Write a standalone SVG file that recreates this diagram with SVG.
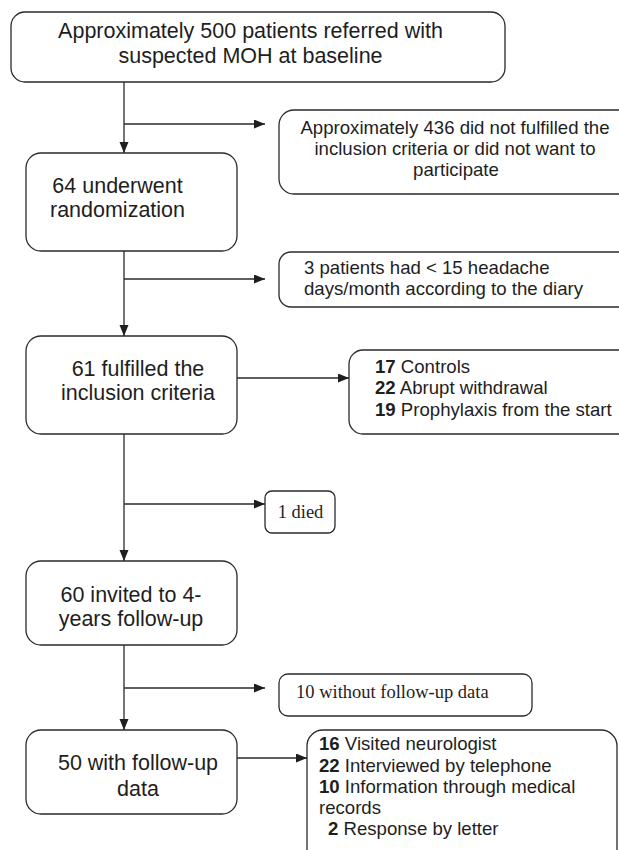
<svg xmlns="http://www.w3.org/2000/svg" width="619" height="850" viewBox="0 0 619 850">
<style>
.box{fill:#fff;stroke:#2a2a2a;stroke-width:1.3}
.main{font-family:"Liberation Sans",Arial,sans-serif;font-size:21.5px;fill:#1e1e1e}
.side{font-family:"Liberation Sans",Arial,sans-serif;font-size:18.6px;fill:#1e1e1e}
.serif{font-family:"Liberation Serif","Times New Roman",serif;font-size:18.5px;fill:#1e1e1e}
.c{text-anchor:middle}
.conn{fill:none;stroke:#2a2a2a;stroke-width:1.3}
b,.b{font-weight:bold}
</style>
<defs>
<marker id="ah" markerUnits="userSpaceOnUse" markerWidth="12" markerHeight="10" refX="11" refY="4.5" orient="auto">
<path d="M0,0 L11,4.5 L0,9 z" fill="#1e1e1e"/>
</marker>
</defs>
<rect width="619" height="850" fill="#fff"/>
<g id="connectors">
<line class="conn" x1="124" y1="82" x2="124" y2="153" marker-end="url(#ah)"/>
<line class="conn" x1="124" y1="124" x2="265" y2="124" marker-end="url(#ah)"/>
<line class="conn" x1="124" y1="251" x2="124" y2="336" marker-end="url(#ah)"/>
<line class="conn" x1="124" y1="279" x2="265" y2="279" marker-end="url(#ah)"/>
<line class="conn" x1="237" y1="378" x2="349" y2="378" marker-end="url(#ah)"/>
<line class="conn" x1="124" y1="434" x2="124" y2="561" marker-end="url(#ah)"/>
<line class="conn" x1="124" y1="504" x2="265" y2="504" marker-end="url(#ah)"/>
<line class="conn" x1="124" y1="645" x2="124" y2="730" marker-end="url(#ah)"/>
<line class="conn" x1="124" y1="688" x2="265" y2="688" marker-end="url(#ah)"/>
<line class="conn" x1="237" y1="758" x2="307" y2="758" marker-end="url(#ah)"/>
</g>
<g id="n1">
<rect class="box" x="11" y="12" width="494" height="70" rx="14"/>
<text class="main c" x="250.5" y="38">Approximately 500 patients referred with</text>
<text class="main c" x="250.5" y="63">suspected MOH at baseline</text>
</g>
<g id="n2">
<rect class="box" x="279" y="110" width="360" height="84" rx="15"/>
<text class="side c" x="455" y="134">Approximately 436 did not fulfilled the</text>
<text class="side c" x="455" y="155">inclusion criteria or did not want to</text>
<text class="side c" x="456" y="176">participate</text>
</g>
<g id="n3">
<rect class="box" x="26" y="153" width="211" height="98" rx="15"/>
<text class="main c" x="117.5" y="193">64 underwent</text>
<text class="main c" x="117.5" y="217">randomization</text>
</g>
<g id="n4">
<rect class="box" x="279" y="252" width="360" height="55" rx="12"/>
<text class="side" x="304" y="274">3 patients had &lt; 15 headache</text>
<text class="side" x="304" y="295">days/month according to the diary</text>
</g>
<g id="n5">
<rect class="box" x="26" y="336" width="211" height="98" rx="15"/>
<text class="main c" x="138" y="376">61 fulfilled the</text>
<text class="main c" x="138" y="400">inclusion criteria</text>
</g>
<g id="n6">
<rect class="box" x="349" y="350" width="290" height="84" rx="14"/>
<text class="side" x="375" y="373"><tspan class="b">17</tspan> Controls</text>
<text class="side" x="375" y="394"><tspan class="b">22</tspan> Abrupt withdrawal</text>
<text class="side" x="375" y="416"><tspan class="b">19</tspan> Prophylaxis from the start</text>
</g>
<g id="n7">
<rect class="box" x="265" y="491" width="70" height="42" rx="7"/>
<text class="serif c" x="300.5" y="518">1 died</text>
</g>
<g id="n8">
<rect class="box" x="26" y="561" width="211" height="84" rx="15"/>
<text class="main c" x="131" y="602">60 invited to 4-</text>
<text class="main c" x="131" y="626">years follow-up</text>
</g>
<g id="n9">
<rect class="box" x="279" y="674" width="253" height="42" rx="9"/>
<text class="serif" x="296" y="698">10 without follow-up data</text>
</g>
<g id="n10">
<rect class="box" x="26" y="730" width="211" height="84" rx="15"/>
<text class="main c" x="138" y="770">50 with follow-up</text>
<text class="main c" x="138" y="796">data</text>
</g>
<g id="n11">
<rect class="box" x="307" y="730" width="310" height="140" rx="16"/>
<text class="side" x="319" y="750"><tspan class="b">16</tspan> Visited neurologist</text>
<text class="side" x="319" y="772"><tspan class="b">22</tspan> Interviewed by telephone</text>
<text class="side" x="319" y="793"><tspan class="b">10</tspan> Information through medical</text>
<text class="side" x="319" y="814">records</text>
<text class="side" x="328" y="835"><tspan class="b">2</tspan> Response by letter</text>
</g>
</svg>
